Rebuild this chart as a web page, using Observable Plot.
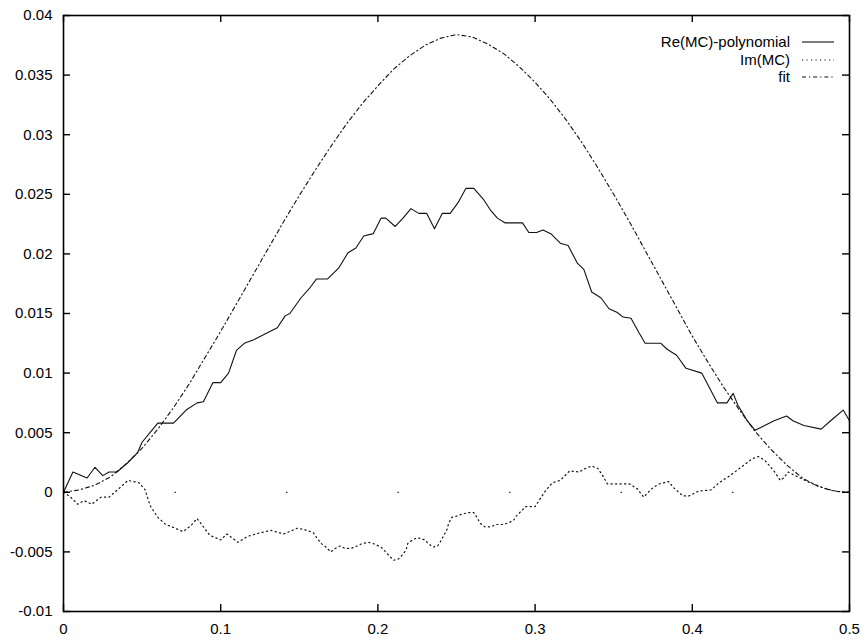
<!DOCTYPE html>
<html>
<head>
<meta charset="utf-8">
<script src="https://cdn.jsdelivr.net/npm/d3@7"></script>
<script src="https://cdn.jsdelivr.net/npm/@observablehq/plot@0.6"></script>
<style>
  body { margin: 0; background: #fff; }
  #chart { width: 866px; height: 641px; }
</style>
</head>
<body>
<div id="chart"></div>
<script>
// ---- Data ----
const reX = [0,0.006,0.015,0.020,0.025,0.029,0.034,0.041,0.047,0.050,0.055,0.060,0.070,0.078,0.085,0.089,0.095,0.100,0.105,0.110,0.115,0.121,0.130,0.136,0.141,0.144,0.151,0.157,0.161,0.168,0.175,0.181,0.186,0.191,0.197,0.202,0.205,0.211,0.216,0.221,0.226,0.231,0.236,0.241,0.246,0.251,0.256,0.261,0.267,0.272,0.276,0.281,0.292,0.296,0.301,0.305,0.310,0.316,0.321,0.327,0.331,0.336,0.342,0.347,0.352,0.356,0.361,0.366,0.370,0.380,0.384,0.390,0.396,0.406,0.416,0.422,0.426,0.429,0.435,0.440,0.452,0.460,0.464,0.471,0.482,0.488,0.496,0.500];
const reY = [0,0.0017,0.0012,0.0021,0.0014,0.0017,0.0017,0.0025,0.0033,0.0042,0.0050,0.0058,0.0058,0.0069,0.0075,0.0076,0.0092,0.0092,0.0100,0.0119,0.0125,0.0128,0.0134,0.0138,0.0148,0.0150,0.0163,0.0172,0.0179,0.0179,0.0188,0.0201,0.0205,0.0215,0.0217,0.0230,0.0230,0.0223,0.0230,0.0238,0.0234,0.0234,0.0221,0.0234,0.0234,0.0243,0.0255,0.0255,0.0246,0.0236,0.0230,0.0226,0.0226,0.0218,0.0218,0.0220,0.0217,0.0209,0.0207,0.0192,0.0187,0.0168,0.0163,0.0154,0.0151,0.0147,0.0146,0.0134,0.0125,0.0125,0.0120,0.0115,0.0104,0.0100,0.0075,0.0075,0.0083,0.0073,0.0060,0.0052,0.0060,0.0064,0.0060,0.0056,0.0053,0.0060,0.0069,0.0060];

const imX = [0,0.0045,0.009,0.013,0.018,0.024,0.029,0.036,0.041,0.048,0.052,0.055,0.060,0.065,0.069,0.076,0.081,0.085,0.089,0.093,0.100,0.104,0.111,0.117,0.125,0.132,0.140,0.149,0.155,0.159,0.161,0.164,0.167,0.170,0.173,0.176,0.179,0.183,0.187,0.190,0.194,0.197,0.202,0.205,0.207,0.210,0.213,0.216,0.218,0.219,0.222,0.225,0.230,0.232,0.235,0.238,0.240,0.242,0.244,0.245,0.247,0.250,0.254,0.258,0.261,0.263,0.265,0.268,0.272,0.275,0.279,0.282,0.286,0.288,0.291,0.294,0.300,0.303,0.307,0.311,0.316,0.322,0.328,0.332,0.336,0.340,0.343,0.346,0.352,0.360,0.365,0.369,0.375,0.379,0.385,0.388,0.394,0.398,0.404,0.412,0.417,0.424,0.432,0.438,0.442,0.446,0.450,0.453,0.456,0.458,0.461,0.467,0.475,0.485,0.495,0.500];
const imY = [0,-0.0004,-0.0010,-0.0007,-0.0010,-0.0004,-0.0004,0.0004,0.0010,0.0008,0.0002,-0.0011,-0.0021,-0.0027,-0.0029,-0.0033,-0.0028,-0.0022,-0.0029,-0.0036,-0.0040,-0.0035,-0.0042,-0.0037,-0.0034,-0.0032,-0.0035,-0.0030,-0.0032,-0.0034,-0.0038,-0.0043,-0.0046,-0.0050,-0.0047,-0.0045,-0.0047,-0.0047,-0.0045,-0.0043,-0.0042,-0.0043,-0.0046,-0.0050,-0.0053,-0.0057,-0.0056,-0.0052,-0.0048,-0.0043,-0.0040,-0.0038,-0.0040,-0.0043,-0.0046,-0.0045,-0.0041,-0.0036,-0.0031,-0.0026,-0.0021,-0.0020,-0.0018,-0.0017,-0.0017,-0.0021,-0.0026,-0.0029,-0.0029,-0.0027,-0.0027,-0.0026,-0.0024,-0.0020,-0.0016,-0.0012,-0.0012,-0.0006,0.0002,0.0008,0.0010,0.0018,0.0017,0.0020,0.0022,0.0020,0.0014,0.0007,0.0007,0.0007,0.0003,-0.0004,0.0004,0.0007,0.0009,0.0004,-0.0003,-0.0003,0.0001,0.0002,0.0008,0.0014,0.0022,0.0028,0.0030,0.0027,0.0021,0.0016,0.0010,0.0012,0.0017,0.0013,0.0008,0.0003,0.0000,0.0000];

const fitX = [0,0.01,0.02,0.03,0.04,0.05,0.06,0.07,0.08,0.09,0.10,0.11,0.12,0.13,0.14,0.15,0.16,0.17,0.18,0.19,0.20,0.21,0.22,0.23,0.24,0.25,0.26,0.27,0.28,0.29,0.30,0.31,0.32,0.33,0.34,0.35,0.36,0.37,0.38,0.39,0.40,0.41,0.42,0.43,0.44,0.45,0.46,0.47,0.48,0.49,0.50];
const fitY = [0,0.0002,0.0006,0.0013,0.0024,0.0037,0.0053,0.0071,0.0091,0.0113,0.0135,0.0158,0.0181,0.0204,0.0227,0.0249,0.0270,0.0290,0.0309,0.0326,0.0341,0.0355,0.0366,0.0375,0.0381,0.0384,0.0382,0.0376,0.0368,0.0357,0.0344,0.0329,0.0312,0.0293,0.0272,0.0250,0.0227,0.0203,0.0179,0.0155,0.0131,0.0109,0.0088,0.0069,0.0051,0.0036,0.0023,0.0012,0.0005,0.0001,0];

const xTicks = [0, 0.1, 0.2, 0.3, 0.4, 0.5];
const xTickLabels = ["0", "0.1", "0.2", "0.3", "0.4", "0.5"];
const yTicks = [-0.01, -0.005, 0, 0.005, 0.01, 0.015, 0.02, 0.025, 0.03, 0.035, 0.04];
const yTickLabels = ["-0.01", "-0.005", "0", "0.005", "0.01", "0.015", "0.02", "0.025", "0.03", "0.035", "0.04"];

const seriesNames = ["Re(MC)-polynomial", "Im(MC)", "fit"];

// ---- Build tables ----
const reData = reX.map((x, i) => ({x, y: reY[i]}));
const imData = imX.map((x, i) => ({x, y: imY[i]}));
const fitData = fitX.map((x, i) => ({x, y: fitY[i]}));

const dashes = [null, "1.2,3.3", "4,3,1.2,3"];

const W = 866, H = 641, ML = 63, MR = 17, MT = 15, MB = 30;
const innerW = W - ML - MR, innerH = H - MT - MB, TICK = 7;

const plot = Plot.plot({
  width: W,
  height: H,
  marginLeft: ML,
  marginRight: MR,
  marginTop: MT,
  marginBottom: MB,
  style: {fontFamily: "'Liberation Sans', Arial, Helvetica, sans-serif", fontSize: "15px", color: "#000", background: "#fff"},
  x: {domain: [0, 0.5], label: null},
  y: {domain: [-0.01, 0.04], label: null},
  marks: [
    Plot.ruleY([0], {stroke: "#000", strokeWidth: 1, strokeDasharray: "1.5,110"}),
    Plot.line(fitData, {x: "x", y: "y", stroke: "#111", strokeWidth: 1.1, strokeDasharray: dashes[2]}),
    Plot.line(imData, {x: "x", y: "y", stroke: "#111", strokeWidth: 1.2, strokeDasharray: dashes[1]}),
    Plot.line(reData, {x: "x", y: "y", stroke: "#111", strokeWidth: 1.1}),
    Plot.axisX({ticks: xTicks, tickSize: 0, tickPadding: 12, label: null, tickFormat: d => xTickLabels[xTicks.indexOf(d)]}),
    Plot.axisY({ticks: yTicks, tickSize: 0, tickPadding: 11, label: null, tickFormat: d => yTickLabels[yTicks.indexOf(d)]}),
    // inward ticks on all four sides (gnuplot mirror style)
    Plot.tickX(xTicks, {x: d => d, stroke: "#000", strokeWidth: 1.4, insetTop: innerH - TICK}),
    Plot.tickX(xTicks, {x: d => d, stroke: "#000", strokeWidth: 1.4, insetBottom: innerH - TICK}),
    Plot.tickY(yTicks, {y: d => d, stroke: "#000", strokeWidth: 1.4, insetRight: innerW - TICK}),
    Plot.tickY(yTicks, {y: d => d, stroke: "#000", strokeWidth: 1.4, insetLeft: innerW - TICK}),
    Plot.frame({stroke: "#000", strokeWidth: 1.6})
  ]
});

document.getElementById("chart").appendChild(plot);

// ---- Legend (top right, inside plot) ----
const svg = d3.select(plot);
const lg = svg.append("g").attr("font-family", "'Liberation Sans', Arial, Helvetica, sans-serif").attr("font-size", 15);
const rowY = [42, 60, 77];
seriesNames.forEach((name, i) => {
  lg.append("text").attr("x", 790).attr("y", rowY[i]).attr("dy", "0.35em")
    .attr("text-anchor", "end").attr("fill", "#000").text(name);
  const ln = lg.append("line").attr("x1", 802).attr("x2", 834).attr("y1", rowY[i]).attr("y2", rowY[i])
    .attr("stroke", "#111").attr("stroke-width", i === 1 ? 1.2 : 1.1);
  if (dashes[i]) ln.attr("stroke-dasharray", dashes[i]);
});
</script>
</body>
</html>
